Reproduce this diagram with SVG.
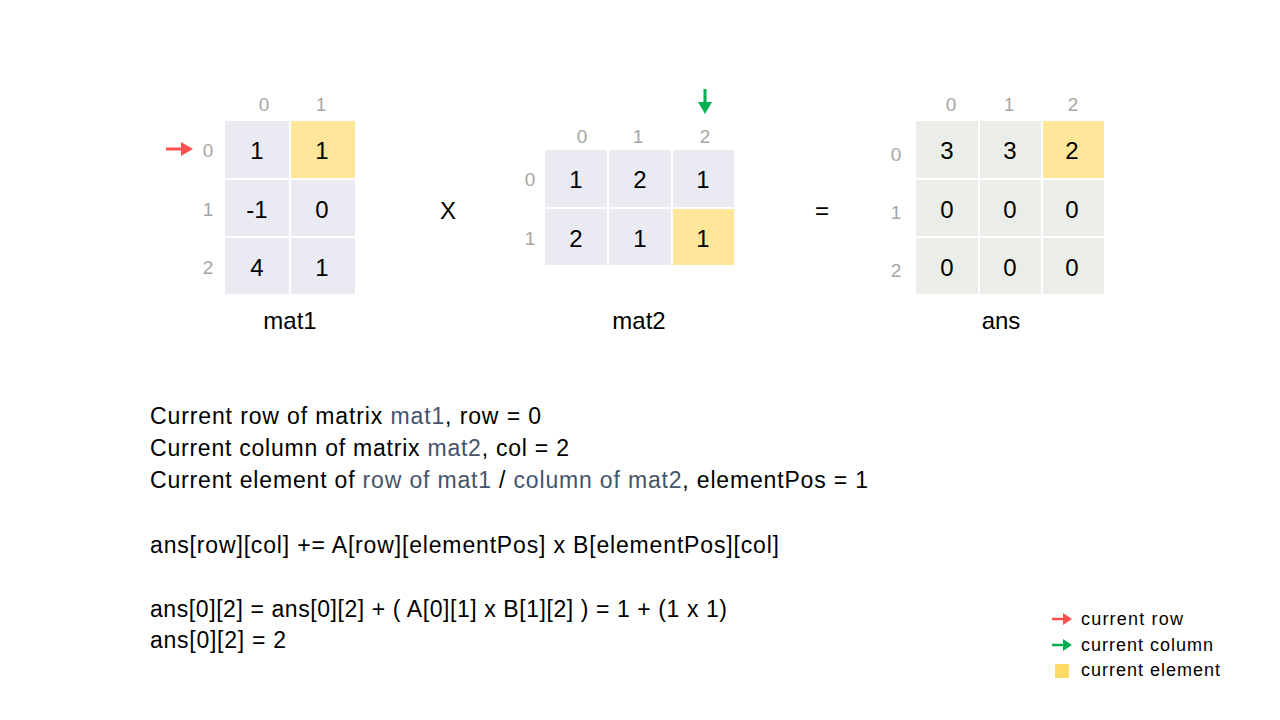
<svg xmlns="http://www.w3.org/2000/svg" width="1280" height="720" viewBox="0 0 1280 720">
<style>
.t{font-family:"Liberation Sans",Arial,sans-serif;fill:#000}
.v{font-size:24px;text-anchor:middle;dominant-baseline:central}
.i{font-family:"Liberation Sans",Arial,sans-serif;font-size:19px;fill:#A6A6A6;text-anchor:middle;dominant-baseline:central}
.m{fill:#E9EAF2}
.a{fill:#EBEEE8}
.y{fill:#FFE699}
.b{font-size:23px}
.s{fill:#44546A}
.l{font-size:18px}
.r{fill:#FF5050}
.g{fill:#00B050}
</style>
<rect width="1280" height="720" fill="#fff"/>
<g id="mat1">
<rect class="m" x="225" y="121" width="64" height="57"/>
<rect class="y" x="291" y="121" width="64" height="57"/>
<rect class="m" x="225" y="180" width="64" height="56"/>
<rect class="m" x="291" y="180" width="64" height="56"/>
<rect class="m" x="225" y="238" width="64" height="56"/>
<rect class="m" x="291" y="238" width="64" height="56"/>
<text class="t v" x="257" y="150">1</text><text class="t v" x="322" y="150">1</text>
<text class="t v" x="257" y="209">-1</text><text class="t v" x="322" y="209">0</text>
<text class="t v" x="257" y="267">4</text><text class="t v" x="322" y="267">1</text>
<text class="i" x="264" y="104">0</text><text class="i" x="321" y="104">1</text>
<text class="i" x="208" y="150">0</text><text class="i" x="208" y="209">1</text><text class="i" x="208" y="267">2</text>
<text class="t v" x="290" y="320">mat1</text>
</g>
<text class="t v" x="448" y="210">X</text>
<g id="mat2">
<rect class="m" x="545" y="150" width="62" height="57"/>
<rect class="m" x="609" y="150" width="62" height="57"/>
<rect class="m" x="673" y="150" width="61" height="57"/>
<rect class="m" x="545" y="209" width="62" height="56"/>
<rect class="m" x="609" y="209" width="62" height="56"/>
<rect class="y" x="673" y="209" width="61" height="56"/>
<text class="t v" x="576" y="179">1</text><text class="t v" x="640" y="179">2</text><text class="t v" x="703" y="179">1</text>
<text class="t v" x="576" y="238">2</text><text class="t v" x="640" y="238">1</text><text class="t v" x="703" y="238">1</text>
<text class="i" x="582" y="136">0</text><text class="i" x="638" y="136">1</text><text class="i" x="705" y="136">2</text>
<text class="i" x="530" y="179">0</text><text class="i" x="530" y="238">1</text>
<text class="t v" x="639" y="320">mat2</text>
</g>
<text class="t v" x="822" y="210">=</text>
<g id="ans">
<rect class="a" x="916" y="121" width="62" height="57"/>
<rect class="a" x="980" y="121" width="61" height="57"/>
<rect class="y" x="1043" y="121" width="61" height="57"/>
<rect class="a" x="916" y="180" width="62" height="56"/>
<rect class="a" x="980" y="180" width="61" height="56"/>
<rect class="a" x="1043" y="180" width="61" height="56"/>
<rect class="a" x="916" y="238" width="62" height="56"/>
<rect class="a" x="980" y="238" width="61" height="56"/>
<rect class="a" x="1043" y="238" width="61" height="56"/>
<text class="t v" x="947" y="150">3</text><text class="t v" x="1010" y="150">3</text><text class="t v" x="1072" y="150">2</text>
<text class="t v" x="947" y="209">0</text><text class="t v" x="1010" y="209">0</text><text class="t v" x="1072" y="209">0</text>
<text class="t v" x="947" y="267">0</text><text class="t v" x="1010" y="267">0</text><text class="t v" x="1072" y="267">0</text>
<text class="i" x="951" y="104">0</text><text class="i" x="1009" y="104">1</text><text class="i" x="1073" y="104">2</text>
<text class="i" x="896" y="154">0</text><text class="i" x="896" y="212">1</text><text class="i" x="896" y="270">2</text>
<text class="t v" x="1001" y="320">ans</text>
</g>
<g id="connectors">
<path class="r" d="M166 147.5H181V142L193 149L181 156V150.5H166Z"/>
<path class="g" d="M703.5 89H706.5V102H712L705 114L698 102H703.5Z"/>
</g>
<g id="text">
<text class="t b" x="150" y="424" textLength="391">Current row of matrix <tspan class="s">mat1</tspan>, row = 0</text>
<text class="t b" x="150" y="456" textLength="419">Current column of matrix <tspan class="s">mat2</tspan>, col = 2</text>
<text class="t b" x="150" y="488" textLength="718">Current element of <tspan class="s">row of mat1</tspan> / <tspan class="s">column of mat2</tspan>, elementPos = 1</text>
<text class="t b" x="150" y="553" textLength="629">ans[row][col] += A[row][elementPos] x B[elementPos][col]</text>
<text class="t b" x="150" y="617" textLength="577">ans[0][2] = ans[0][2] + ( A[0][1] x B[1][2] ) = 1 + (1 x 1)</text>
<text class="t b" x="150" y="648" textLength="136">ans[0][2] = 2</text>
</g>
<g id="legend">
<path class="r" d="M1052 617.7H1063V613L1072 619L1063 625V620.3H1052Z"/>
<path class="g" d="M1052 643.7H1063V639L1072 645L1063 651V646.3H1052Z"/>
<rect x="1055" y="664" width="14" height="14" fill="#FFD966"/>
<text class="t l" x="1081" y="625" textLength="102">current row</text>
<text class="t l" x="1081" y="651" textLength="132">current column</text>
<text class="t l" x="1081" y="676" textLength="139">current element</text>
</g>
</svg>
